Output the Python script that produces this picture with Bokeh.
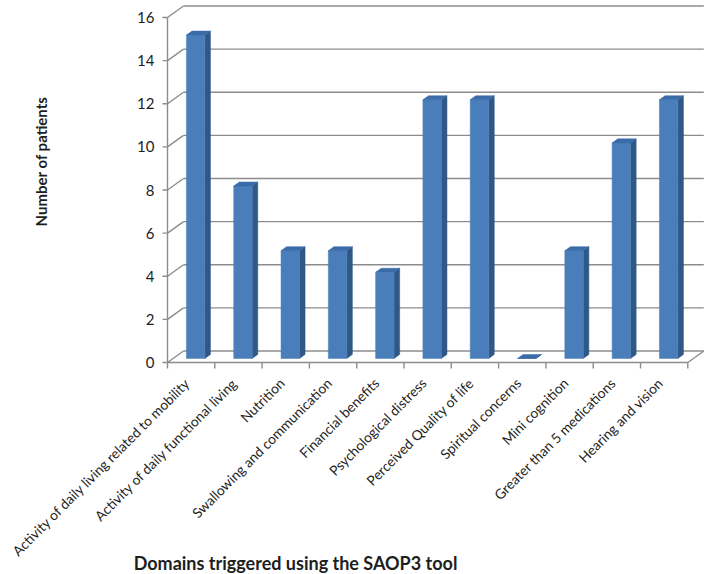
import math
from bokeh.plotting import figure
from bokeh.models import Range1d, ColumnDataSource
from bokeh.core.properties import value
from bokeh.embed import file_html
from bokeh.resources import INLINE

# ---- data ----
categories = [
    "Activity of daily living related to mobility",
    "Activity of daily functional living",
    "Nutrition",
    "Swallowing and communication",
    "Financial benefits",
    "Psychological distress",
    "Perceived Quality of life",
    "Spiritual concerns",
    "Mini cognition",
    "Greater than 5 medications",
    "Hearing and vision",
]
counts = [15, 8, 5, 5, 4, 12, 12, 0, 5, 10, 12]
y_ticks = [0, 2, 4, 6, 8, 10, 12, 14, 16]
y_tick_labels = [str(t) for t in y_ticks]
y_title = "Number of patients"
x_title = "Domains triggered using the SAOP3 tool"

# ---- geometry: pixels per data unit and 3D offsets ----
W, H = 709, 574
ORIG_X, ORIG_Y = 167, 362      # screen position of data (0, 0)
PX_X = 47.3
PX_Y = 21.56
DX = 16.0 / PX_X               # back-wall offset
DY = 11.5 / PX_Y
F0, F1 = 0.35, 0.70            # bar depth planes
BL, BR = 0.40, 0.79            # bar front face within category
N = len(categories)
YMAX = y_ticks[-1]

def sx(px):   # screen-x offset (px) -> data units
    return px / PX_X

def sy(px):   # screen-y offset (px, downward) -> data units
    return -px / PX_Y

GRID = "#8c8c8c"
FRONT = "#4a7ebb"
SIDE = "#2f5887"
TOP = "#3b6ba8"
TXT = "#1e1e1e"
FONT = value("Lato")

p = figure(width=W, height=H,
           x_range=Range1d(-ORIG_X / PX_X, (W - ORIG_X) / PX_X),
           y_range=Range1d(-(H - ORIG_Y) / PX_Y, ORIG_Y / PX_Y),
           x_axis_location=None, y_axis_location=None,
           output_backend="svg", toolbar_location=None,
           min_border_left=0, min_border_right=0,
           min_border_top=0, min_border_bottom=0)
p.xgrid.visible = False
p.ygrid.visible = False
p.outline_line_color = None
p.background_fill_color = "white"
p.border_fill_color = "white"

LW = 1.4
nt = len(y_ticks)
# left wall diagonals
p.segment(x0=[0] * nt, y0=y_ticks, x1=[DX] * nt, y1=[t + DY for t in y_ticks],
          line_color=GRID, line_width=LW)
# back wall gridlines
p.segment(x0=[DX] * nt, y0=[t + DY for t in y_ticks],
          x1=[N + DX] * nt, y1=[t + DY for t in y_ticks],
          line_color=GRID, line_width=LW)
# floor right edge
p.segment(x0=[N], y0=[0], x1=[N + DX], y1=[DY], line_color=GRID, line_width=LW)
# front vertical axis line + ticks
p.segment(x0=[0], y0=[0], x1=[0], y1=[YMAX], line_color=GRID, line_width=LW)
p.segment(x0=[sx(-5)] * nt, y0=y_ticks, x1=[0] * nt, y1=y_ticks,
          line_color=GRID, line_width=LW)
# floor front edge + category boundary ticks
p.segment(x0=[0], y0=[0], x1=[N], y1=[0], line_color=GRID, line_width=LW)
p.segment(x0=list(range(N + 1)), y0=[0] * (N + 1),
          x1=list(range(N + 1)), y1=[sy(6)] * (N + 1),
          line_color=GRID, line_width=LW)

# y tick labels
p.text(x=[sx(-13)] * nt, y=y_ticks, text=y_tick_labels,
       text_align="right", text_baseline="middle",
       text_font=FONT, text_font_size="15px", text_color=TXT)

# bars
dx1, dy1 = (F1 - F0) * DX, (F1 - F0) * DY
lefts = [i + BL for i in range(N)]
rights = [i + BR for i in range(N)]
bottoms = [F0 * DY] * N
tops = [v + F0 * DY for v in counts]

side_xs = [[r, r + dx1, r + dx1, r] for r in rights]
side_ys = [[b, b + dy1, t + dy1, t] for b, t in zip(bottoms, tops)]
top_xs = [[l, r, r + dx1, l + dx1] for l, r in zip(lefts, rights)]
top_ys = [[t, t, t + dy1, t + dy1] for t in tops]

p.patches(side_xs, side_ys, fill_color=SIDE, line_color=SIDE, line_width=0.5)
p.quad(left=lefts, right=rights, bottom=bottoms, top=tops,
       fill_color=FRONT, line_color=FRONT, line_width=0.5)
p.patches(top_xs, top_ys, fill_color=TOP, line_color=TOP, line_width=0.5)

# rotated category labels
lab_src = ColumnDataSource(dict(
    x=[i + 0.5 + sx(-10) for i in range(N)],
    y=[sy(12)] * N,
    text=categories,
))
p.text(x="x", y="y", text="text", source=lab_src,
       angle=math.pi / 4, text_align="right", text_baseline="top",
       text_font=FONT, text_font_size="13.8px", text_color=TXT)

# axis titles
p.text(x=[sx(40 - ORIG_X)], y=[sy(161 - ORIG_Y)], text=[y_title],
       angle=math.pi / 2, text_align="center", text_baseline="middle",
       text_font=FONT, text_font_size="15px", text_font_style="bold",
       text_color=TXT)
p.text(x=[sx(295 - ORIG_X)], y=[sy(562 - ORIG_Y)], text=[x_title],
       text_align="center", text_baseline="middle",
       text_font=FONT, text_font_size="18px", text_font_style="bold",
       text_color=TXT)

open("out.html", "w").write(file_html(p, INLINE))
